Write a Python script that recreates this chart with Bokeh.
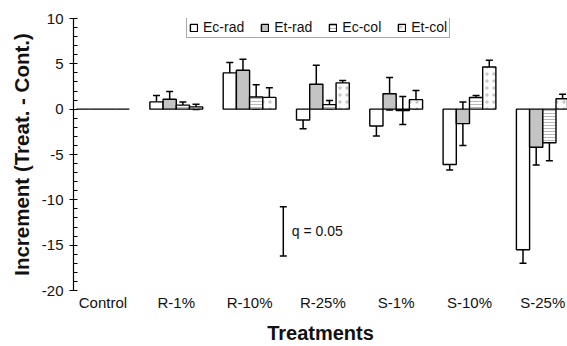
from bokeh.plotting import figure
from bokeh.models import (ColumnDataSource, FixedTicker, Whisker, TeeHead, Legend,
                          LegendItem, Label, Range1d)
from bokeh.embed import file_html
from bokeh.resources import INLINE

treatments = ["Control", "R-1%", "R-10%", "R-25%", "S-1%", "S-10%", "S-25%"]
series = ["Ec-rad", "Et-rad", "Ec-col", "Et-col"]

ec_rad = [0.0, 0.8, 4.0, -1.2, -1.85, -6.1, -15.5]
ec_rad_err = [0.0, 0.7, 1.15, 0.95, 1.1, 0.6, 1.5]
et_rad = [0.0, 1.1, 4.3, 2.75, 1.7, -1.6, -4.2]
et_rad_err = [0.0, 0.85, 1.2, 2.1, 1.8, 2.4, 1.95]
ec_col = [0.0, 0.45, 1.35, 0.5, -0.15, 1.3, -3.7]
ec_col_err = [0.0, 0.35, 1.35, 0.45, 1.55, 0.2, 2.0]
et_col = [0.0, 0.25, 1.3, 2.9, 1.05, 4.65, 1.15]
et_col_err = [0.0, 0.3, 1.05, 0.25, 1.0, 0.75, 0.5]

y_ticks = [-20, -15, -10, -5, 0, 5, 10]
y_tick_labels = ["-20", "-15", "-10", "-5", "0", "5", "10"]

q_label = "q = 0.05"
q_x = 2.46
q_low = -16.2
q_high = -10.75

values = [ec_rad, et_rad, ec_col, et_col]
errors = [ec_rad_err, et_rad_err, ec_col_err, et_col_err]

FONT = "Liberation Sans"
TXT = "#111111"

styles = [
    dict(fill_color="white"),
    dict(fill_color="#c4c4c4"),
    dict(fill_color="white", hatch_pattern="horizontal_line", hatch_color="#b8b8b8",
         hatch_scale=3.0, hatch_weight=1.0),
    dict(fill_color="white", hatch_pattern="dot", hatch_color="#c8c8c8",
         hatch_scale=7.0, hatch_weight=1.2),
]

p = figure(width=567, height=346, output_backend="svg", toolbar_location=None,
           x_range=Range1d(-0.402, 6.337), y_range=Range1d(-20, 10),
           min_border_left=73, min_border_right=0, min_border_top=18,
           min_border_bottom=55)
p.outline_line_color = None
p.xgrid.visible = False
p.ygrid.visible = False
p.background_fill_color = "white"
p.border_fill_color = "white"

bw = 0.18
offsets = [-1.5 * bw, -0.5 * bw, 0.5 * bw, 1.5 * bw]
items = []
for k, name in enumerate(series):
    xs = [i + offsets[k] for i in range(len(treatments))]
    vals = values[k]
    errs = errors[k]
    src = ColumnDataSource(dict(x=xs, top=vals))
    r = p.vbar(x="x", top="top", bottom=0, width=bw, source=src,
               line_color="black", line_width=1.4, **styles[k])
    items.append(LegendItem(label=name, renderers=[r]))
    idx = [i for i, e in enumerate(errs) if e > 0]
    esrc = ColumnDataSource(dict(x=[xs[i] for i in idx],
                                 upper=[vals[i] + errs[i] for i in idx],
                                 lower=[vals[i] - errs[i] for i in idx]))
    w = Whisker(base="x", upper="upper", lower="lower", source=esrc,
                line_color="black", line_width=1.5,
                upper_head=TeeHead(size=7, line_width=1.5, line_color="black"),
                lower_head=TeeHead(size=7, line_width=1.5, line_color="black"))
    p.add_layout(w)

# q annotation
qsrc = ColumnDataSource(dict(x=[q_x], upper=[q_high], lower=[q_low]))
p.add_layout(Whisker(base="x", upper="upper", lower="lower", source=qsrc,
                     line_color="black", line_width=1.5,
                     upper_head=TeeHead(size=7, line_width=1.5),
                     lower_head=TeeHead(size=7, line_width=1.5)))
p.add_layout(Label(x=q_x + 0.115, y=(q_low + q_high) / 2, text=q_label,
                   text_font=FONT, text_font_size="14px",
                   text_baseline="middle", text_color=TXT))

legend = Legend(items=items, orientation="horizontal", location=(113, 252),
                glyph_width=9, glyph_height=9, label_text_font=FONT,
                label_text_font_size="14px", label_text_color=TXT,
                label_standoff=5, spacing=16, padding=2, margin=0,
                border_line_color="#555555", border_line_width=1.3,
                label_height=14, label_text_baseline="middle",
                background_fill_color="white", background_fill_alpha=1.0)
p.add_layout(legend)

# axes
p.yaxis.ticker = FixedTicker(ticks=y_ticks,
                             minor_ticks=[v for v in range(-20, 11) if v % 5 != 0])
p.yaxis.major_label_overrides = dict(zip(y_ticks, y_tick_labels))
p.yaxis.axis_label = "Increment (Treat. - Cont.)"
p.yaxis.axis_label_text_font = FONT
p.yaxis.axis_label_text_font_style = "bold"
p.yaxis.axis_label_text_font_size = "20.5px"
p.yaxis.axis_label_text_color = TXT
p.yaxis.axis_label_standoff = 6
p.yaxis.major_label_text_font = FONT
p.yaxis.major_label_text_font_size = "15px"
p.yaxis.major_label_text_color = TXT
p.yaxis.major_label_standoff = 6
p.yaxis.axis_line_color = "black"
p.yaxis.axis_line_width = 1.2
p.yaxis.major_tick_in = 4
p.yaxis.major_tick_out = 4
p.yaxis.minor_tick_in = 4
p.yaxis.minor_tick_out = 0
p.yaxis.major_tick_line_width = 1.2

p.xaxis.ticker = FixedTicker(ticks=list(range(len(treatments))))
p.xaxis.major_label_overrides = {i: t for i, t in enumerate(treatments)}
p.xaxis.axis_label = "Treatments"
p.xaxis.axis_label_text_font = FONT
p.xaxis.axis_label_text_font_style = "bold"
p.xaxis.axis_label_text_font_size = "20px"
p.xaxis.axis_label_text_color = TXT
p.xaxis.axis_label_standoff = 8
p.xaxis.major_label_text_font = FONT
p.xaxis.major_label_text_font_size = "15px"
p.xaxis.major_label_text_color = TXT
p.xaxis.major_label_standoff = 3
p.xaxis.major_tick_in = 0
p.xaxis.major_tick_out = 0
p.xaxis.axis_line_color = None
p.xaxis.major_tick_line_color = None
p.xaxis.minor_tick_line_color = None

open("out.html", "w").write(file_html(p, INLINE))
